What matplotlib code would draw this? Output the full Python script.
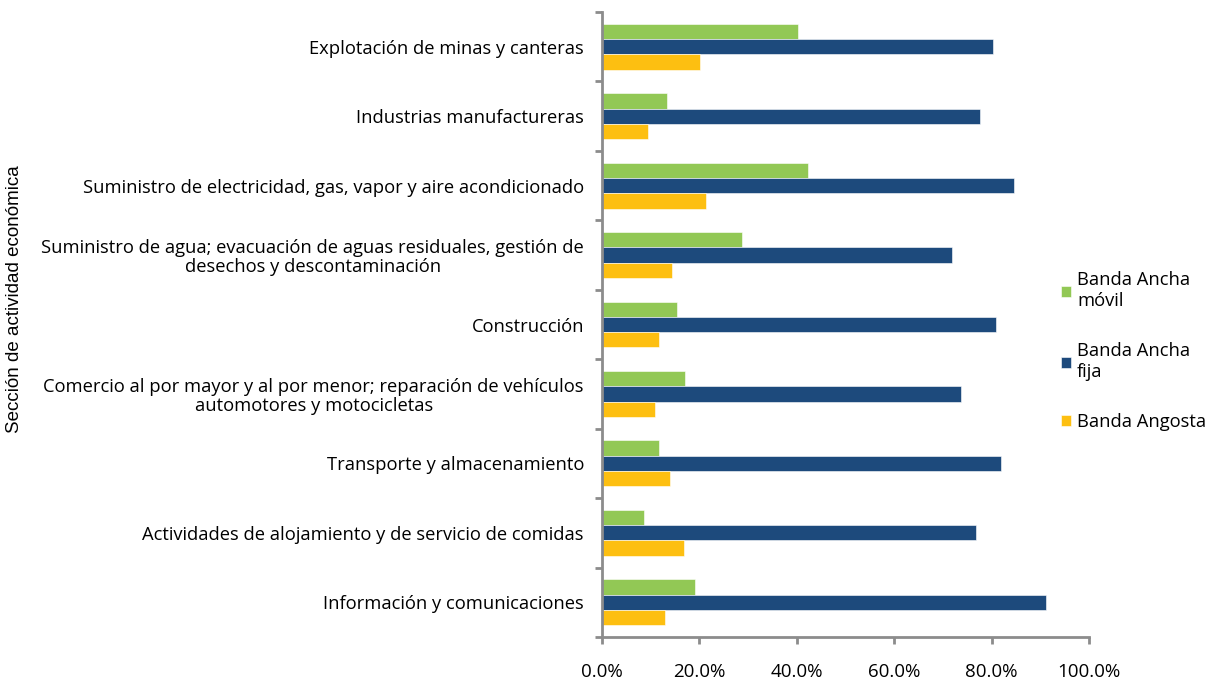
import numpy as np
import matplotlib.pyplot as plt
from matplotlib.ticker import FuncFormatter

plt.rcParams['font.family'] = ['Open Sans', 'DejaVu Sans']

categorias = [
    "Explotación de minas y canteras",
    "Industrias manufactureras",
    "Suministro de electricidad, gas, vapor y aire acondicionado",
    "Suministro de agua; evacuación de aguas residuales, gestión de\ndesechos y descontaminación",
    "Construcción",
    "Comercio al por mayor y al por menor; reparación de vehículos\nautomotores y motocicletas",
    "Transporte y almacenamiento",
    "Actividades de alojamiento y de servicio de comidas",
    "Información y comunicaciones",
]

movil = [40.2, 13.3, 42.2, 28.7, 15.5, 17.1, 11.7, 8.6, 19.1]
fija = [80.2, 77.6, 84.5, 71.8, 81.0, 73.7, 81.9, 76.8, 91.1]
angosta = [20.2, 9.4, 21.3, 14.4, 11.7, 10.9, 14.0, 16.8, 12.9]

series = [
    ("Banda Ancha\nmóvil", movil, "#92C855"),
    ("Banda Ancha\nfija", fija, "#1D4A7C"),
    ("Banda Angosta", angosta, "#FDBF11"),
]

fig = plt.figure(figsize=(12.09, 6.84), dpi=100)
ax = fig.add_axes([602 / 1209, 1 - 637 / 684, 487 / 1209, 625 / 684])

y = np.arange(len(categorias))
h = 0.22
for i, (nombre, vals, color) in enumerate(series):
    ax.barh(y + (i - 1) * h, vals, height=h, color=color, label=nombre,
            edgecolor='white', linewidth=0.4)

ax.set_xlim(0, 100)
ax.set_ylim(len(categorias) - 0.5, -0.5)
ax.set_xticks(np.arange(0, 101, 20))
ax.xaxis.set_major_formatter(FuncFormatter(lambda v, p: f"{v:.1f}%"))

ax.set_yticks(np.arange(len(categorias) + 1) - 0.5, minor=False)
ax.set_yticklabels([])
ax.set_yticks(y, minor=True)
ax.set_yticklabels(categorias, minor=True, multialignment='center', linespacing=1.05)
ax.tick_params(axis='y', which='minor', length=0, pad=13, labelsize=13.2)
ax.tick_params(axis='y', which='major', length=5, width=2, color='#8c8c8c')
ax.tick_params(axis='x', length=5, width=2, color='#8c8c8c', labelsize=13.5, pad=14)

for s in ['top', 'right']:
    ax.spines[s].set_visible(False)
for s in ['left', 'bottom']:
    ax.spines[s].set_color('#8c8c8c')
    ax.spines[s].set_linewidth(2)

fig.text(15 / 1209, 1 - 299 / 684, "Sección de actividad económica", rotation=90,
         ha='center', va='center', fontsize=13.5, family='Liberation Sans')

ax.legend(loc='center left', bbox_to_anchor=(0.908, 0.457), frameon=False,
          fontsize=13.2, handlelength=0.55, handleheight=0.55, handletextpad=0.35,
          labelspacing=1.75)

fig.savefig("out.png", dpi=100)
